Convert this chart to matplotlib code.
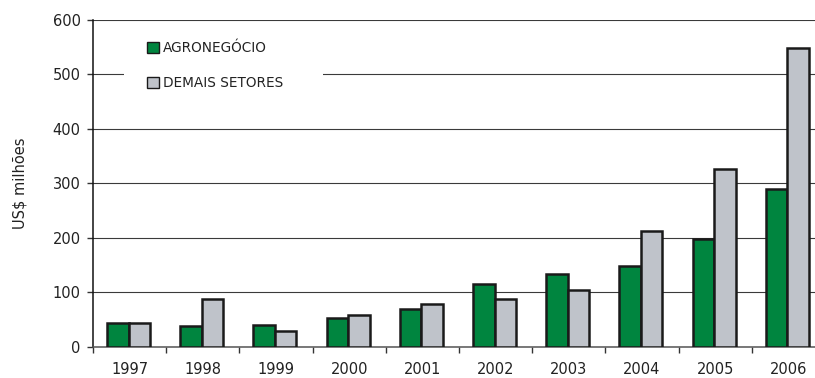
import numpy as np
import matplotlib.pyplot as plt
from matplotlib.patches import Patch, Rectangle

# Exportações por ano (US$ milhões)
anos = ['1997', '1998', '1999', '2000', '2001', '2002', '2003', '2004', '2005', '2006']
agronegocio = [43, 38, 40, 53, 69, 116, 134, 148, 198, 290]
demais_setores = [44, 87, 29, 58, 78, 87, 105, 213, 327, 548]

verde = '#00853f'
cinza = '#bfc3ca'
texto = '#222222'

plt.rcParams['font.family'] = ['DejaVu Sans']

fig = plt.figure(figsize=(8.15, 3.78), dpi=100)
ax = fig.add_axes([93 / 815, 31.3 / 378, 732 / 815, 326.7 / 378])

x = np.arange(len(anos))
largura = 0.295
desloc = -0.015
ax.bar(x + desloc - largura / 2, agronegocio, largura, color=verde,
       edgecolor='#1a1a1a', linewidth=1.8, zorder=3)
ax.bar(x + desloc + largura / 2, demais_setores, largura, color=cinza,
       edgecolor='#1a1a1a', linewidth=1.8, zorder=3)

ax.set_xlim(-0.5, len(anos) - 0.5)
ax.set_ylim(0, 600)
ax.set_yticks(range(0, 601, 100))
ax.yaxis.grid(True, color='#3a3a3a', linewidth=0.8, zorder=0)
ax.set_axisbelow(True)

# rótulos no centro, marcas entre as categorias
ax.set_xticks(x)
ax.set_xticklabels(anos)
ax.set_xticks(np.arange(-0.5, len(anos)), minor=True)
ax.tick_params(axis='x', which='major', length=0, pad=11, labelsize=10.5, labelcolor=texto)
ax.tick_params(axis='x', which='minor', length=4, width=1, color='#333333', direction='out')
ax.tick_params(axis='y', length=4, width=1, color='#333333', pad=5, labelsize=10.5, labelcolor=texto)

for lado in ['top', 'right']:
    ax.spines[lado].set_visible(False)
ax.spines['left'].set_color('#111111')
ax.spines['left'].set_linewidth(1.1)
ax.spines['bottom'].set_color('#555555')
ax.spines['bottom'].set_linewidth(1.1)

ax.set_ylabel('US$ milhões', fontsize=10.5, color=texto, labelpad=18)

# fundo branco da legenda por cima da linha de 500
ax.add_patch(Rectangle((-0.5 + 31 / 73.2, 470), 199 / 73.2, 80,
                       facecolor='white', edgecolor='none', zorder=1))

handles = [Patch(facecolor=verde, edgecolor='#1a1a1a', linewidth=1.0),
           Patch(facecolor=cinza, edgecolor='#1a1a1a', linewidth=1.0)]
ax.legend(handles, ['AGRONEGÓCIO', 'DEMAIS SETORES'], loc='upper left',
          bbox_to_anchor=(147 / 815, 1 - 41 / 378), bbox_transform=fig.transFigure,
          frameon=False, fontsize=9.8, handlelength=0.9, handleheight=0.9,
          handletextpad=0.25, labelspacing=1.55, borderpad=0, borderaxespad=0,
          labelcolor=texto)

fig.savefig('out.png', dpi=100)
